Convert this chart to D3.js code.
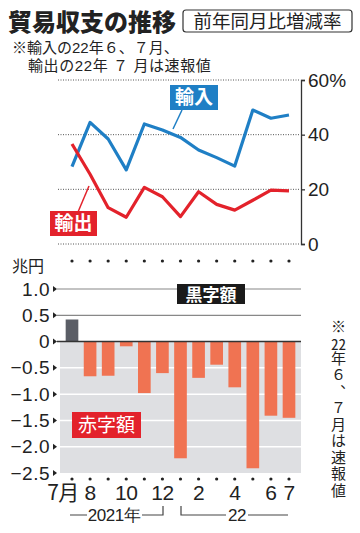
<!DOCTYPE html>
<html><head><meta charset="utf-8">
<script src="https://cdn.jsdelivr.net/npm/d3@7"></script>
<style>body{margin:0;background:#fff;position:relative}svg{display:block}
#note{position:absolute;left:330px;top:319px;writing-mode:vertical-rl;font-family:'Noto Sans CJK JP',sans-serif;font-size:15px;line-height:17px;letter-spacing:1.5px;color:#222;white-space:nowrap}
#note .tcy{text-combine-upright:all}
#sub{position:absolute;left:12px;top:38.8px;font-family:'Liberation Sans','Noto Sans CJK JP',sans-serif;font-size:15px;line-height:18px;color:#222;white-space:nowrap}
#sub .l2{padding-left:16px;letter-spacing:0.6px}</style>
</head><body><svg id="c" width="360" height="533"></svg><div id="sub"></div><div id="note"></div>
<script>
const months = ["2021-07","2021-08","2021-09","2021-10","2021-11","2021-12","2022-01","2022-02","2022-03","2022-04","2022-05","2022-06","2022-07"];
const monthLabels = ["7月","8","","10","","12","","2","","4","","6","7"];
const imports = [28.3,44.5,38.4,27.1,43.9,41.7,39.0,34.4,31.6,28.5,49.0,46.0,47.2];
const exportsPct = [36.6,25.5,13.3,9.8,20.7,17.3,10.0,19.1,14.5,12.4,16.0,19.7,19.4];
const balance = [0.42,-0.66,-0.65,-0.09,-0.98,-0.60,-2.22,-0.69,-0.44,-0.87,-2.41,-1.41,-1.45];
const pctTicks = [0,20,40,60];
const balTicks = [1.0,0.5,0,-0.5,-1.0,-1.5,-2.0,-2.5];
const subLines = ["※輸入の22年６、７月、","輸出の22年 ７ 月は速報値"];
const noteParts = ["※","22","年６、７月は速報値"];

const JP = "'Noto Sans CJK JP', sans-serif";
const NUM = "'Liberation Sans', Arial, sans-serif";
const BLUE = "#1f7fc5", RED = "#e3222b", BAR_RED = "#f07352", BAR_GRAY = "#5b5e66", BG = "#dedfe2";

const svg = d3.select("#c");

// Title
svg.append("text").attr("x", 8).attr("y", 31).attr("font-family", JP).attr("font-weight", 900)
  .attr("font-size", 24).attr("fill", "#222").text("貿易収支の推移");
svg.append("rect").attr("x", 183).attr("y", 10).attr("width", 169).attr("height", 22).attr("rx", 3)
  .attr("fill", "none").attr("stroke", "#333").attr("stroke-width", 1.2);
svg.append("text").attr("x", 267.5).attr("y", 28).attr("text-anchor", "middle").attr("font-family", JP)
  .attr("font-size", 18.5).attr("fill", "#222").text("前年同月比増減率");

// subtitle note (one block, two lines)
const sub = d3.select("#sub");
sub.append("span").text(subLines[0]);
sub.append("br");
sub.append("span").attr("class", "l2").text(subLines[1]);

// x scale
const x = d3.scalePoint().domain(months).range([72, 289]);
const bw = x.step() * 0.7;

// ---- Line chart ----
const yP = d3.scaleLinear().domain([0, 60]).range([244, 80]);
svg.append("g").selectAll("line").data(pctTicks).join("line")
  .attr("x1", 58).attr("x2", 299).attr("y1", d => yP(d)).attr("y2", d => yP(d))
  .attr("stroke", "#555").attr("stroke-width", 1).attr("stroke-dasharray", "1,1.5");

const axR = svg.append("g").attr("transform", "translate(301,0)")
  .call(d3.axisRight(yP).tickValues(pctTicks).tickSize(4).tickPadding(3)
    .tickFormat(d => d === 60 ? "60%" : d));
axR.select(".domain").attr("stroke", "#333").attr("stroke-width", 1.3);
axR.selectAll(".tick line").attr("stroke", "#333").attr("stroke-width", 1.3);
axR.selectAll(".tick text").attr("font-family", NUM).attr("font-size", 19).attr("fill", "#222");

const line = d3.line().x((d, i) => x(months[i])).y(d => yP(d));
svg.append("path").datum(imports).attr("d", line).attr("fill", "none").attr("stroke", BLUE)
  .attr("stroke-width", 3.2).attr("stroke-linejoin", "round");
svg.append("path").datum(exportsPct).attr("d", line).attr("fill", "none").attr("stroke", RED)
  .attr("stroke-width", 3.2).attr("stroke-linejoin", "round");

// labels for lines
svg.append("line").attr("x1", 182).attr("y1", 110).attr("x2", 173).attr("y2", 129)
  .attr("stroke", BLUE).attr("stroke-width", 1.5);
svg.append("rect").attr("x", 170).attr("y", 85).attr("width", 48).attr("height", 25).attr("fill", BLUE);
svg.append("text").attr("x", 194).attr("y", 104).attr("text-anchor", "middle").attr("font-family", JP)
  .attr("font-weight", 700).attr("font-size", 19).attr("fill", "#fff").text("輸入");
svg.append("line").attr("x1", 78).attr("y1", 212).attr("x2", 89).attr("y2", 186)
  .attr("stroke", RED).attr("stroke-width", 1.5);
svg.append("rect").attr("x", 50).attr("y", 211).attr("width", 47).attr("height", 25).attr("fill", RED);
svg.append("text").attr("x", 73.5).attr("y", 230).attr("text-anchor", "middle").attr("font-family", JP)
  .attr("font-weight", 700).attr("font-size", 19).attr("fill", "#fff").text("輸出");

// dots rows
[261, 479].forEach(yy => {
  svg.append("g").selectAll("circle").data(months).join("circle")
    .attr("cx", d => x(d)).attr("cy", yy).attr("r", 1.6).attr("fill", "#222");
});

// ---- Bar chart ----
const yB = d3.scaleLinear().domain([-2.5, 1.0]).range([473, 289]);
svg.append("rect").attr("x", 60).attr("y", yB(0)).attr("width", 241).attr("height", yB(-2.5) - yB(0)).attr("fill", BG);
svg.append("g").selectAll("line").data(balTicks.filter(d => d !== 0 && d !== -2.5)).join("line")
  .attr("x1", d => d > 0 ? 57 : 60).attr("x2", 301).attr("y1", d => yB(d)).attr("y2", d => yB(d))
  .attr("stroke", d => d > 0 ? "#888" : "#fff").attr("stroke-width", d => d > 0 ? 1.2 : 1.5);

svg.append("g").selectAll("rect").data(balance).join("rect")
  .attr("x", (d, i) => x(months[i]) - bw / 2).attr("width", bw)
  .attr("y", d => yB(Math.max(0, d))).attr("height", d => Math.abs(yB(d) - yB(0)))
  .attr("fill", d => d >= 0 ? BAR_GRAY : BAR_RED);

svg.append("line").attr("x1", 57).attr("x2", 301).attr("y1", yB(0)).attr("y2", yB(0))
  .attr("stroke", "#333").attr("stroke-width", 1.5);

const fmt = d => d === 0 ? "0" : (d < 0 ? "−" : "") + Math.abs(d).toFixed(1);
const axL = svg.append("g").attr("transform", "translate(52,0)")
  .call(d3.axisLeft(yB).tickValues(balTicks).tickSize(0).tickPadding(2).tickFormat(fmt));
axL.select(".domain").remove();
axL.selectAll(".tick text").attr("font-family", NUM).attr("font-size", 19).attr("fill", "#222")
  .attr("letter-spacing", 0.5);
svg.append("g").selectAll("path").data(balTicks).join("path")
  .attr("d", d => `M53,${yB(d) - 3}L57,${yB(d)}L53,${yB(d) + 3}Z`).attr("fill", "#222");

svg.append("text").attr("x", 12).attr("y", 272).attr("font-family", JP).attr("font-size", 16)
  .attr("fill", "#222").text("兆円");

// boxes
svg.append("rect").attr("x", 177).attr("y", 284).attr("width", 68).attr("height", 20).attr("fill", "#1a1a1a");
svg.append("text").attr("x", 211).attr("y", 300.5).attr("text-anchor", "middle").attr("font-family", JP)
  .attr("font-weight", 700).attr("font-size", 17).attr("fill", "#fff").text("黒字額");
svg.append("rect").attr("x", 72).attr("y", 412).attr("width", 69).attr("height", 26).attr("fill", RED);
svg.append("text").attr("x", 106.5).attr("y", 432).attr("text-anchor", "middle").attr("font-family", JP)
  .attr("font-size", 19).attr("fill", "#fff").text("赤字額");

// x labels
svg.append("g").selectAll("text").data(months).join("text")
  .attr("x", (d, i) => i === 0 ? x(d) - 9 : x(d)).attr("y", 500).attr("text-anchor", "middle")
  .attr("font-family", (d, i) => i === 0 ? JP : NUM).attr("font-size", 21).attr("fill", "#222")
  .attr("letter-spacing", -0.5)
  .text((d, i) => monthLabels[i]);

// year brackets
const yr = svg.append("g").attr("stroke", "#444").attr("stroke-width", 1.2).attr("fill", "none");
yr.append("path").attr("d", "M70,515H87M142,515H163V506");
yr.append("path").attr("d", "M181,506V515H226M248,515H288");
svg.append("text").attr("x", 114).attr("y", 521).attr("text-anchor", "middle").attr("font-family", NUM)
  .attr("font-size", 17).attr("fill", "#222").attr("letter-spacing", -0.5).text("2021年");
svg.append("text").attr("x", 237).attr("y", 521).attr("text-anchor", "middle").attr("font-family", NUM)
  .attr("font-size", 17).attr("fill", "#222").attr("letter-spacing", -0.5).text("22");

// vertical note (single vertical text block)
const note = d3.select("#note");
noteParts.forEach(p => {
  note.append("span").attr("class", /^\d+$/.test(p) ? "tcy" : null).text(p);
});
</script></body></html>
